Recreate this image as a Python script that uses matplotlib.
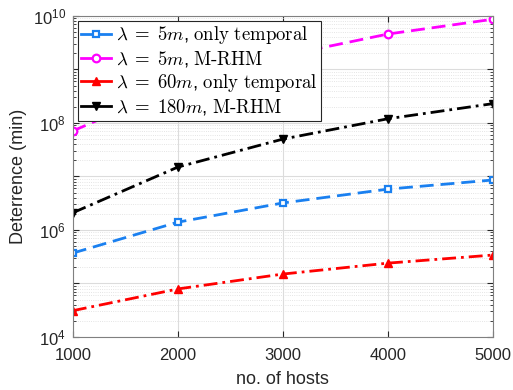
import matplotlib
matplotlib.use("Agg")
import matplotlib.pyplot as plt
from matplotlib.lines import Line2D
from matplotlib.ticker import LogLocator, NullFormatter, FixedLocator

plt.rcParams['font.family'] = ['Liberation Sans', 'DejaVu Sans']
plt.rcParams['mathtext.fontset'] = 'cm'

hosts = [1000, 2000, 3000, 4000, 5000]
det_5m_temporal = [3.7e5, 1.4e6, 3.2e6, 5.8e6, 8.6e6]
det_5m_mrhm = [7.1e7, 5.0e8, 1.8e9, 4.6e9, 8.7e9]
det_60m_temporal = [3.1e4, 7.9e4, 1.5e5, 2.4e5, 3.4e5]
det_180m_mrhm = [2.1e6, 1.5e7, 5.0e7, 1.2e8, 2.3e8]

labels = [r'$\lambda\;=\;5m$, $\mathrm{only\ temporal}$',
          r'$\lambda\;=\;5m$, $\mathrm{M\text{-}RHM}$',
          r'$\lambda\;=\;60m$, $\mathrm{only\ temporal}$',
          r'$\lambda\;=\;180m$, $\mathrm{M\text{-}RHM}$']

fig = plt.figure(figsize=(5.13, 3.90), dpi=100)
ax = fig.add_axes([0.142, 0.136, 0.819, 0.823])

dash = (0, (5, 2.5))
dashdot = (0, (5, 1.8, 1, 1.8))
styles = [
    dict(ls=dash, color='#1a80f0', marker='s', ms=5, mfc='white', mec='#1a80f0', mew=1.6),
    dict(ls=dash, color='#ff00ff', marker='o', ms=5.5, mfc='white', mec='#ff00ff', mew=1.6),
    dict(ls=dashdot, color='#ff0000', marker='^', ms=6, mfc='#ff0000', mec='#ff0000', mew=1),
    dict(ls=dashdot, color='black', marker='v', ms=6, mfc='black', mec='black', mew=1),
]
series = [det_5m_temporal, det_5m_mrhm, det_60m_temporal, det_180m_mrhm]

handles = []
for vals, st, lab in zip(series, styles, labels):
    ax.plot(hosts, vals, lw=2, **st)
    hst = dict(st)
    hst['ls'] = '-'
    handles.append(Line2D([], [], lw=2, **hst))

ax.set_yscale('log')
ax.set_xlim(1000, 5000)
ax.set_ylim(1e4, 1e10)
ax.set_xticks(hosts)
ax.set_xticklabels([str(h) for h in hosts])

decades = [10.0 ** k for k in range(4, 11)]
ax.yaxis.set_major_locator(FixedLocator(decades))
ax.set_yticklabels([r'$\mathregular{10^{%d}}$' % k if k % 2 == 0 else '' for k in range(4, 11)])
ax.yaxis.set_minor_locator(LogLocator(base=10, subs=range(2, 10), numticks=100))
ax.yaxis.set_minor_formatter(NullFormatter())

ax.grid(True, which='major', color='#dcdcdc', lw=0.8)
ax.grid(True, which='minor', axis='y', color='#dcdcdc', lw=0.6, ls=':')
ax.set_axisbelow(True)

ax.tick_params(which='both', direction='in', top=True, right=True,
               colors='#262626', labelsize=12)
ax.tick_params(axis='x', pad=8)
ax.tick_params(axis='y', pad=5)
ax.tick_params(which='major', length=4)
ax.tick_params(which='minor', length=2)
for s in ax.spines.values():
    s.set_color('#808080')
    s.set_linewidth(0.8)

ax.set_xlabel('no. of hosts', fontsize=13, color='#262626', labelpad=6)
ax.set_ylabel('Deterrence (min)', fontsize=13, color='#262626')

leg = ax.legend(handles, labels, loc='upper left', fontsize=13.5, frameon=True,
                fancybox=False, framealpha=1, edgecolor='#262626',
                handlelength=1.6, handletextpad=0.25, borderpad=0.2,
                labelspacing=0.15, borderaxespad=0.25)
leg.get_frame().set_linewidth(0.8)
leg.set_zorder(5)

fig.savefig('out.png', dpi=100)
